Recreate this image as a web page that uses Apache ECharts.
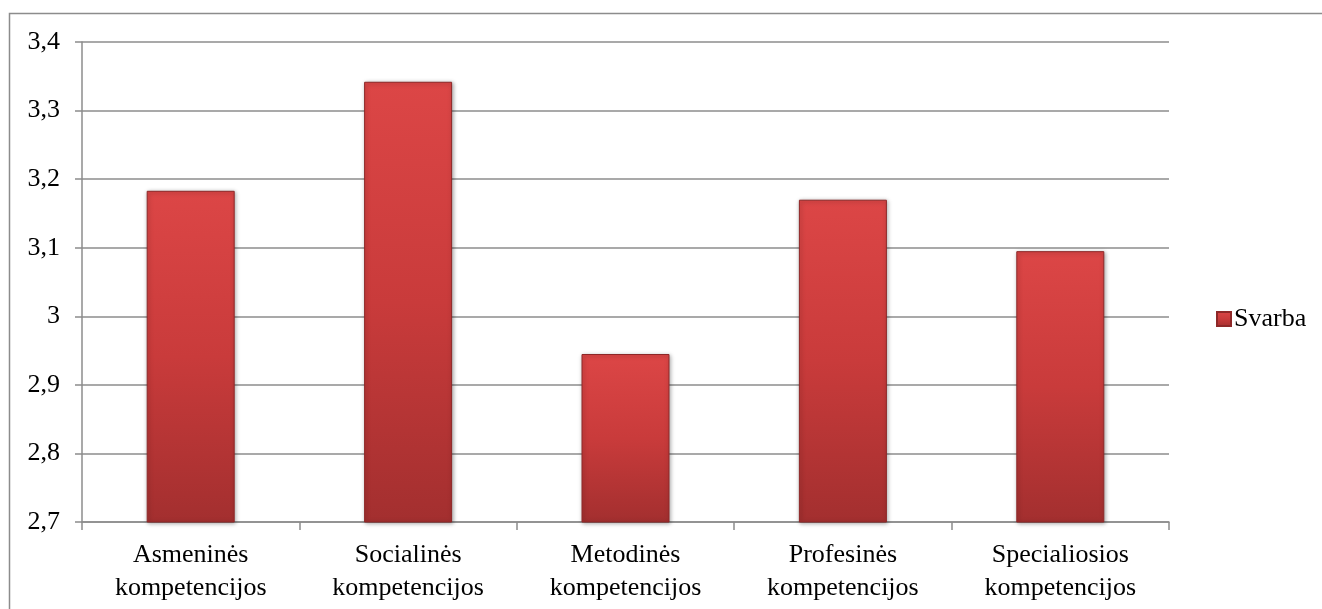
<!DOCTYPE html>
<html>
<head>
<meta charset="utf-8">
<script src="https://cdn.jsdelivr.net/npm/echarts@6/dist/echarts.min.js"></script>
<style>
  html, body { margin: 0; padding: 0; background: #fff; }
  #chart { width: 1322px; height: 609px; }
</style>
</head>
<body>
<div id="chart"></div>
<script>
var categories = [
    'Asmeninės\nkompetencijos',
    'Socialinės\nkompetencijos',
    'Metodinės\nkompetencijos',
    'Profesinės\nkompetencijos',
    'Specialiosios\nkompetencijos'
];
var svarba = [3.183, 3.342, 2.945, 3.170, 3.095];
var seriesName = 'Svarba';

var font = '"Liberation Serif", "Times New Roman", serif';
var gray = '#8c8c8c';

var barColor = new echarts.graphic.LinearGradient(0, 0, 0, 1, [
    { offset: 0, color: '#dc4646' },
    { offset: 0.5, color: '#c93b3b' },
    { offset: 1, color: '#a32f2f' }
]);

var chart = echarts.init(document.getElementById('chart'));
chart.setOption({
    backgroundColor: '#fff',
    animation: false,
    graphic: [{
        type: 'rect',
        shape: { x: 9.5, y: 13.5, width: 1330, height: 620 },
        style: { fill: 'none', stroke: gray, lineWidth: 1.5 },
        silent: true
    }],
    grid: { left: 82, right: 153, top: 42, bottom: 87 },
    legend: {
        left: 1211,
        top: 301,
        itemWidth: 14,
        itemHeight: 14,
        itemGap: 6,
        icon: 'rect',
        textStyle: { fontFamily: font, fontSize: 26, color: '#000', padding: [0, 0, 0, -2] },
        data: [seriesName]
    },
    xAxis: {
        type: 'category',
        data: categories,
        axisLine: { lineStyle: { color: gray, width: 1.5 } },
        axisTick: { show: true, length: 8, alignWithLabel: false, lineStyle: { color: gray, width: 1.5 } },
        axisLabel: {
            fontFamily: font, fontSize: 26, color: '#000',
            lineHeight: 33, margin: 17, interval: 0
        }
    },
    yAxis: {
        type: 'value',
        min: 2.7,
        max: 3.4,
        interval: 0.1,
        axisLine: { show: true, lineStyle: { color: gray, width: 1.5 } },
        axisTick: { show: true, length: 7, lineStyle: { color: gray, width: 1.5 } },
        splitLine: { lineStyle: { color: gray, width: 1.5 } },
        axisLabel: {
            fontFamily: font, fontSize: 26, color: '#000', margin: 22,
            formatter: function (v) {
                return String(Number(v.toFixed(1))).replace('.', ',');
            }
        }
    },
    series: [{
        name: seriesName,
        type: 'bar',
        data: svarba,
        barWidth: 88,
        itemStyle: {
            color: barColor,
            borderColor: '#8e2828',
            borderWidth: 1,
            shadowColor: 'rgba(0,0,0,0.35)',
            shadowBlur: 4,
            shadowOffsetX: 1,
            shadowOffsetY: 1
        }
    }]
});
</script>
</body>
</html>
